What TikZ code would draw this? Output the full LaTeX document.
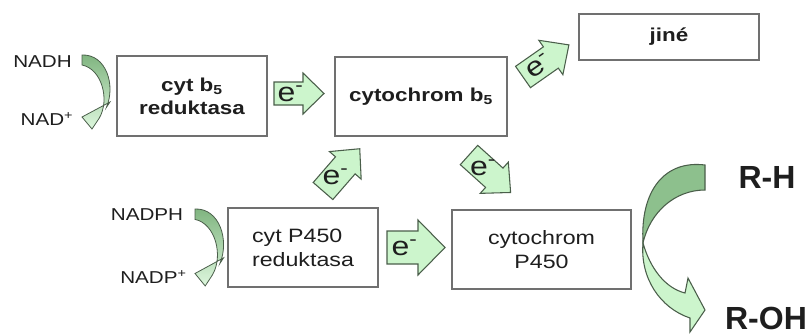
\documentclass[tikz,border=0pt]{standalone}
\usepackage{fontspec}
\setmainfont{Liberation Sans}[FakeStretch=1.2]
\newfontfamily\rfont{Liberation Sans}
\definecolor{boxline}{HTML}{707070}
\definecolor{lgreen}{HTML}{CCF5CC}
\definecolor{dgreen}{HTML}{8DC08D}
\definecolor{bendtop}{HTML}{7FB47F}
\definecolor{bendbot}{HTML}{DDF7DD}
\definecolor{gline}{HTML}{4A5E4A}
\definecolor{txt}{HTML}{1E1E1E}
\tikzset{
  box/.style 2 args={draw=boxline, line width=1.1pt, fill=white, text=txt,
    minimum width=#1*0.75pt, minimum height=#2*0.75pt, inner sep=0pt},
  bbold/.style={font=\fontsize{14}{17}\selectfont\bfseries, align=center},
  breg/.style={font=\fontsize{14.5}{18}\selectfont},
  small/.style={font=\fontsize{12.9}{14}\selectfont, text=txt, inner sep=0pt, anchor=base},
  big/.style={font=\rfont\bfseries\fontsize{24}{26}\selectfont, text=txt, inner sep=0pt, anchor=base},
  efill/.style={fill=lgreen, draw=gline, line width=0.8pt},
  etext/.style={font=\fontsize{20}{20}\selectfont, text=txt, inner sep=0pt},
  bendfill/.style={top color=bendtop, bottom color=bendbot, draw=gline, line width=0.6pt},
  pics/earrow/.style n args={5}{code={
    \path[efill] (0,{-#2/2}) -- ({#1-#4},{-#2/2}) -- ({#1-#4},{-#3/2}) -- (#1,0)
      -- ({#1-#4},{#3/2}) -- ({#1-#4},{#2/2}) -- (0,{#2/2}) -- cycle;
    \node[etext, rotate=#5] (-t) at ({(#1-#4)/2+2},0) {e\textsuperscript{-}};
  }},
  pics/bend/.style={code={
    \path[bendfill] (0,0) .. controls (24,-1) and (34,30) .. (24.4,52.4) -- (28,47) -- (0,62)
      -- (10,74) -- (17.2,63.2) .. controls (28,45) and (20,14) .. (0,10) -- cycle;
  }},
}
\begin{document}
\begin{tikzpicture}[x=0.75pt,y=-0.75pt]
\useasboundingbox (0,0) rectangle (812,333);

% boxes
\node[box={150}{80}, bbold] (b5red) at (192,96) {cyt b\textsubscript{5}\\reduktasa};
\node[box={172}{79}, bbold] (cytb5) at (421,96.5) {cytochrom b\textsubscript{5}};
\node[box={180}{46}, bbold] (jine) at (669,37) {jiné};
\node[box={150}{79}, breg, align=left] (p450red) at (303,247.5) {cyt P450\\reduktasa};
\node[box={179}{79}, breg, align=center] (cytp450) at (541.5,249.5) {cytochrom\\P450};

% cofactor labels
\node[small] (nadh) at (42.5,67) {NADH};
\node[small] (nad) at (47,125) {NAD\textsuperscript{+}};
\node[small] (nadph) at (147,220) {NADPH};
\node[small] (nadp) at (153.5,283) {NADP\textsuperscript{+}};

% curved cofactor arrows
\pic (bend1) at (82,55) {bend};
\pic[xscale=1.02, yscale=1.04] (bend2) at (195,209) {bend};

% electron arrows
\pic (e1) at (274,93.5) {earrow={50}{23}{41}{21}{0}};
\pic (e2) at (387,247.5) {earrow={58}{33}{55}{27}{0}};
\pic[rotate=35] (e3) at (523,77) {earrow={56}{26}{42}{22}{35}};
\pic[rotate=49] (e4) at (323,191) {earrow={56}{26}{42}{22}{0}};
\pic[rotate=-42] (e5) at (469,155) {earrow={56}{26}{42}{22}{0}};

% substrate / product
\node[big] (rh) at (767,188) {R-H};
\node[big] (roh) at (766,329) {R-OH};

% big curved arrow
\path[fill=dgreen, draw=gline, line width=0.8pt]
  (705,165) .. controls (665,160) and (640,190) .. (643,243)
  .. controls (650,212) and (675,190) .. (705,190) -- cycle;
\path[fill=lgreen, draw=gline, line width=0.8pt]
  (643,243) .. controls (650,268) and (665,288) .. (685,293) -- (688,278) -- (705,310)
  -- (690,332) -- (690,318) .. controls (660,308) and (640,278) .. (643,243) -- cycle;
\end{tikzpicture}
\end{document}
